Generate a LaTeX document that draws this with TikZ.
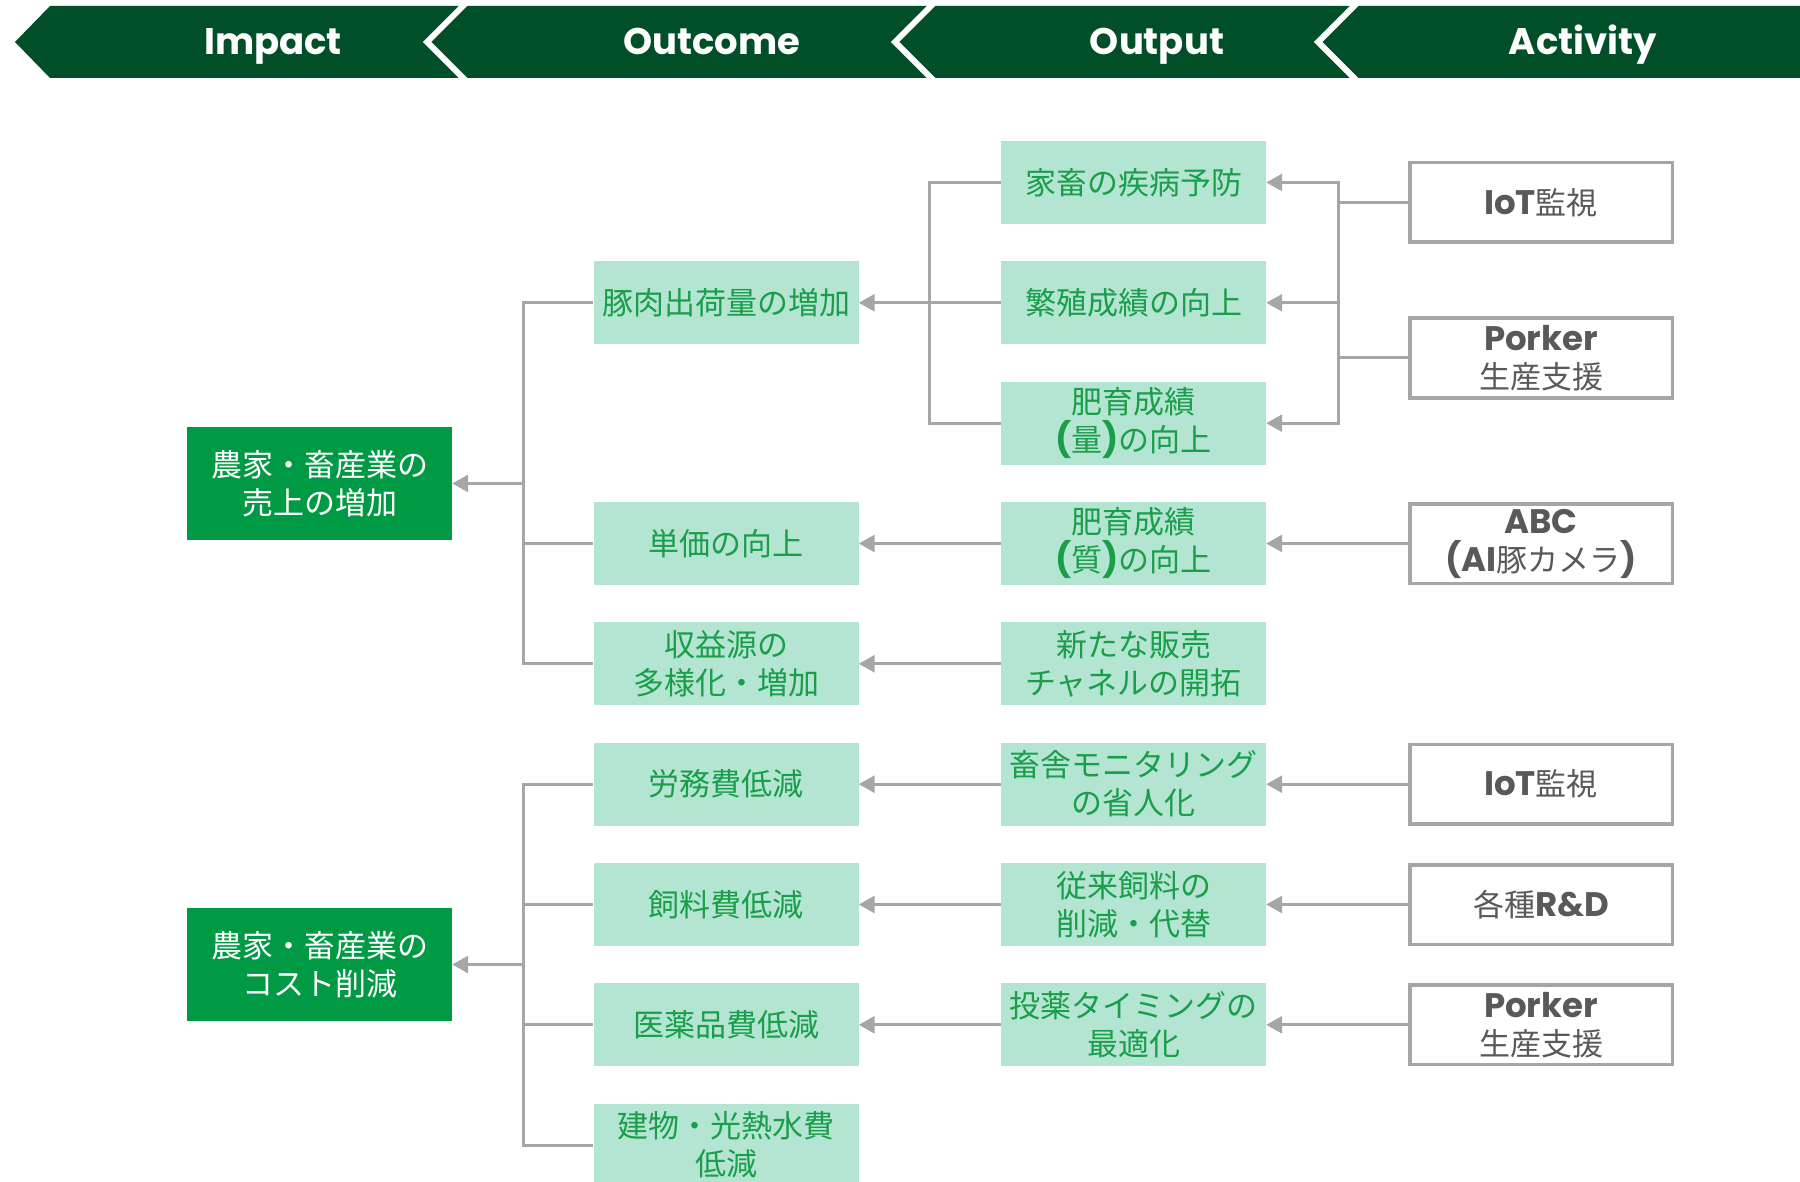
\documentclass[tikz,border=0pt]{standalone}
\usepackage{fontspec}
\setmainfont{Noto Sans CJK JP}
\newfontfamily\latf{Poppins}
\usetikzlibrary{arrows.meta}
\definecolor{hdr}{HTML}{004F28}
\definecolor{imp}{HTML}{009A44}
\definecolor{lgt}{HTML}{B3E5D2}
\definecolor{gtxt}{HTML}{1A9E4A}
\definecolor{lnc}{HTML}{A6A6A6}
\definecolor{atxt}{HTML}{595959}
\newcommand\lb[1]{{\latf\bfseries\fontsize{34}{38}\selectfont #1}}
\begin{document}
\begin{tikzpicture}[x=1pt,y=-1pt,
 base/.style={minimum width=265pt, minimum height=83pt, inner sep=0pt, align=center, font=\fontsize{31}{38}\selectfont},
 impbox/.style={base, fill=imp, text=white, minimum height=113pt},
 outbox/.style={base, fill=lgt, text=gtxt},
 actbox/.style={base, draw=lnc, line width=3.5pt, text=atxt, minimum width=262.5pt, minimum height=79.5pt},
 conn/.style={draw=lnc, line width=3pt},
 arr/.style={conn, -{Triangle[length=16pt,width=17pt]}},
 hlabel/.style={text=white, anchor=base, font=\latf\bfseries\fontsize{37}{37}\selectfont},
 sep/.style={draw=white, line width=6pt}
]
\useasboundingbox (0,0) rectangle (1800,1182);
% header
\fill[hdr] (15,42) -- (50,6) -- (1800,6) -- (1800,78) -- (50,78) -- cycle;
\draw[sep] (469,0) -- (427,42) -- (469,84);
\draw[sep] (937,0) -- (895,42) -- (937,84);
\draw[sep] (1360,0) -- (1318,42) -- (1360,84);
\node[hlabel] (hI) at (273,55) {Impact};
\node[hlabel] (hO) at (712,55) {Outcome};
\node[hlabel] (hP) at (1157,55) {Output};
\node[hlabel] (hA) at (1583,55) {Activity};
% impact
\node[impbox] (i1) at (319.5,483.5) {農家・畜産業の\\売上の増加};
\node[impbox] (i2) at (319.5,964.5) {農家・畜産業の\\コスト削減};
% outcome
\node[outbox] (o2) at (726,302.8) {豚肉出荷量の増加};
\node[outbox] (o4) at (726,543.5) {単価の向上};
\node[outbox] (o5) at (726,663.8) {収益源の\\多様化・増加};
\node[outbox] (o6) at (726,784.2) {労務費低減};
\node[outbox] (o7) at (726,904.5) {飼料費低減};
\node[outbox] (o8) at (726,1024.8) {医薬品費低減};
\node[outbox] (o9) at (726,1145.2) {建物・光熱水費\\低減};
% output
\node[outbox] (p1) at (1133.5,182.5) {家畜の疾病予防};
\node[outbox] (p2) at (1133.5,302.8) {繁殖成績の向上};
\node[outbox] (p3) at (1133.5,423.2) {肥育成績\\\lb{(}量\lb{)}の向上};
\node[outbox] (p4) at (1133.5,543.5) {肥育成績\\\lb{(}質\lb{)}の向上};
\node[outbox] (p5) at (1133.5,663.8) {新たな販売\\チャネルの開拓};
\node[outbox] (p6) at (1133.5,784.2) {畜舎モニタリング\\の省人化};
\node[outbox] (p7) at (1133.5,904.5) {従来飼料の\\削減・代替};
\node[outbox] (p8) at (1133.5,1024.8) {投薬タイミングの\\最適化};
% activity
\node[actbox] (a1) at (1541,202.5) {\lb{IoT}監視};
\node[actbox] (a2) at (1541,358) {\lb{Porker}\\生産支援};
\node[actbox] (a3) at (1541,543.5) {\lb{ABC}\\\lb{(AI}豚カメラ\lb{)}};
\node[actbox] (a4) at (1541,784.2) {\lb{IoT}監視};
\node[actbox] (a5) at (1541,904.5) {各種\lb{R\&D}};
\node[actbox] (a6) at (1541,1024.8) {\lb{Porker}\\生産支援};
% bus coordinates
\coordinate (b1) at (523,483.5);
\coordinate (b2) at (523,964.5);
\coordinate (b3) at (929,302.8);
\coordinate (j1) at (1338,202.5);
\coordinate (j2) at (1338,358);
\coordinate (j3) at (1338,302.8);
% impact buses
\draw[conn] (o2.west) -| (b1) |- (o5.west);
\draw[conn] (o4.west) -| (b1);
\draw[arr] (b1) -- (i1.east);
\draw[conn] (o6.west) -| (b2) |- (o9.west);
\draw[conn] (o7.west) -| (b2);
\draw[conn] (o8.west) -| (b2);
\draw[arr] (b2) -- (i2.east);
% output to outcome
\draw[conn] (p1.west) -| (b3) |- (p3.west);
\draw[conn] (p2.west) -- (b3);
\draw[arr] (b3) -- (o2.east);
\draw[arr] (p4.west) -- (o4.east);
\draw[arr] (p5.west) -- (o5.east);
\draw[arr] (p6.west) -- (o6.east);
\draw[arr] (p7.west) -- (o7.east);
\draw[arr] (p8.west) -- (o8.east);
% activity to output
\draw[conn] (a1.west) -- (j1);
\draw[conn] (a2.west) -- (j2);
\draw[arr] (j1) |- (p1.east);
\draw[arr] (j2) |- (p3.east);
\draw[conn] (j1) -- (j2);
\draw[arr] (j3) -- (p2.east);
\draw[arr] (a3.west) -- (p4.east);
\draw[arr] (a4.west) -- (p6.east);
\draw[arr] (a5.west) -- (p7.east);
\draw[arr] (a6.west) -- (p8.east);
\end{tikzpicture}
\end{document}
